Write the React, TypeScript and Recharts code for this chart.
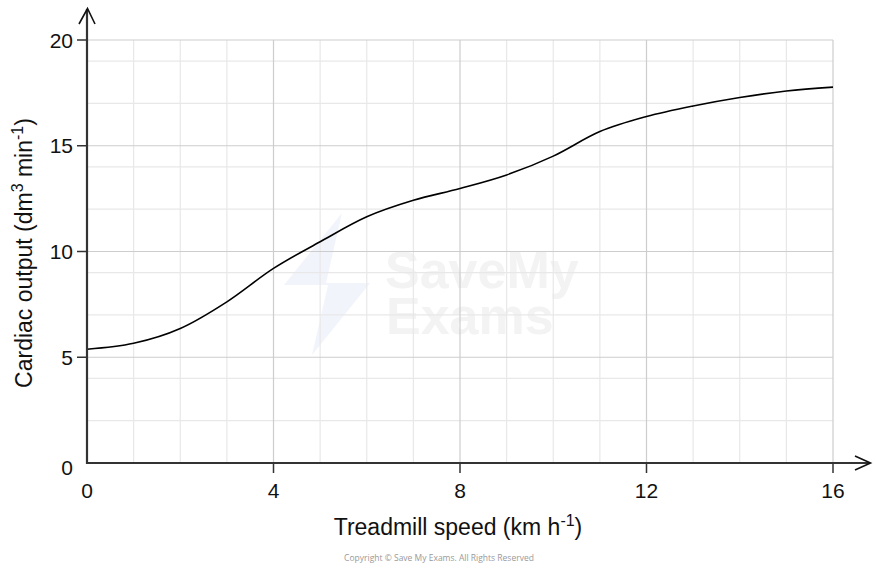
import { LineChart, Line, XAxis, YAxis, CartesianGrid } from 'recharts';

// treadmill speed / km h-1
const speeds = [0, 1, 2, 3, 4, 5, 6, 7, 8, 9, 10, 11, 12, 13, 14, 15, 16];
// cardiac output / dm3 min-1
const cardiacOutput = [5.38, 5.66, 6.36, 7.62, 9.2, 10.46, 11.64, 12.42, 12.98, 13.62, 14.51, 15.67, 16.38, 16.88, 17.28, 17.59, 17.77];

const xTicks = [0, 4, 8, 12, 16];
const yTicks = [0, 5, 10, 15, 20];
const xMinor = [1, 2, 3, 5, 6, 7, 9, 10, 11, 13, 14, 15];
const yMinor = [1, 2, 3, 4, 6, 7, 8, 9, 11, 12, 13, 14, 16, 17, 18, 19];
const xMajor = [4, 8, 12, 16];
const yMajor = [5, 10, 15, 20];

const data = speeds.map((s, i) => ({ speed: s, output: cardiacOutput[i] }));

const FONT = '"Liberation Sans", Arial, sans-serif';
const AXIS = '#333';

const XTick = ({ x, y, payload }: any) => (
  <g>
    {payload.value !== 0 && <line x1={x} y1={y} x2={x} y2={y + 10} stroke={AXIS} strokeWidth={1.5} />}
    <text x={x} y={y + 35} textAnchor="middle" fontSize={21} fontFamily={FONT} fill="#111">
      {payload.value}
    </text>
  </g>
);

const YTick = ({ x, y, payload }: any) => (
  <g>
    {payload.value !== 0 && <line x1={x - 10} y1={y} x2={x} y2={y} stroke={AXIS} strokeWidth={1.5} />}
    <text x={x - 14} y={y + (payload.value === 0 ? 12 : 7.5)} textAnchor="end" fontSize={21} fontFamily={FONT} fill="#111">
      {payload.value}
    </text>
  </g>
);

export default function App() {
  return (
    <div style={{ position: 'absolute', left: 0, top: 0, width: 876, height: 568, background: '#fff' }}>
      <svg width={876} height={568} style={{ position: 'absolute', left: 0, top: 0 }}>
        <g fontFamily={FONT} fontWeight="bold" fontSize={52} fill="#f3f3f3">
          <text x={385} y={288}>SaveMy</text>
          <text x={386} y={334}>Exams</text>
        </g>
        <polygon points="342,213 284,285 328,285 312,355 370,283 326,283" fill="#f2f4fc" />
      </svg>
      <div style={{ position: 'absolute', left: 0, top: 0 }}>
        <LineChart width={876} height={568} data={data} margin={{ top: 40, right: 43, bottom: 75, left: 27 }}>
          <CartesianGrid stroke="#e8e8e8" strokeWidth={1.2} verticalValues={xMinor} horizontalValues={yMinor} fill="none" />
          <CartesianGrid stroke="#cdcdcd" strokeWidth={1.2} verticalValues={xMajor} horizontalValues={yMajor} fill="none" />
          <XAxis
            dataKey="speed"
            type="number"
            domain={[0, 16]}
            ticks={xTicks}
            axisLine={false}
            tickLine={false}
            tickSize={0}
            tickMargin={0}
            height={30}
            tick={<XTick />}
          />
          <YAxis
            type="number"
            domain={[0, 20]}
            ticks={yTicks}
            axisLine={false}
            tickLine={false}
            tickSize={0}
            tickMargin={0}
            width={60}
            tick={<YTick />}
          />
          <Line dataKey="output" type="monotone" stroke="#000" strokeWidth={1.6} dot={false} isAnimationActive={false} />
        </LineChart>
      </div>
      <svg width={876} height={568} style={{ position: 'absolute', left: 0, top: 0, pointerEvents: 'none' }}>
        <g stroke={AXIS} strokeWidth={2.2} fill="none">
          <line x1={87} y1={464} x2={87} y2={9} />
          <line x1={86} y1={463} x2={870} y2={463} />
          <polyline points="79,24 87.5,8.5 95,24" strokeWidth={1.6} stroke="#111" />
          <polyline points="855,456 870.5,463 855,470" strokeWidth={1.6} stroke="#111" />
        </g>
        <text x={458} y={535} textAnchor="middle" fontSize={23} fontFamily={FONT} fill="#111">
          Treadmill speed (km h<tspan dy={-9} fontSize={16}>-1</tspan><tspan dy={9}>)</tspan>
        </text>
        <text
          transform="translate(32,253) rotate(-90)"
          textAnchor="middle"
          fontSize={23}
          fontFamily={FONT}
          fill="#111"
        >
          Cardiac output (dm<tspan dy={-9} fontSize={16}>3</tspan><tspan dy={9}> min</tspan><tspan dy={-9} fontSize={16}>-1</tspan><tspan dy={9}>)</tspan>
        </text>
        <text x={439} y={561} textAnchor="middle" fontSize={8.5} fontFamily='"Open Sans", sans-serif' fill="#9a9a9a">
          Copyright © Save My Exams. All Rights Reserved
        </text>
      </svg>
    </div>
  );
}
